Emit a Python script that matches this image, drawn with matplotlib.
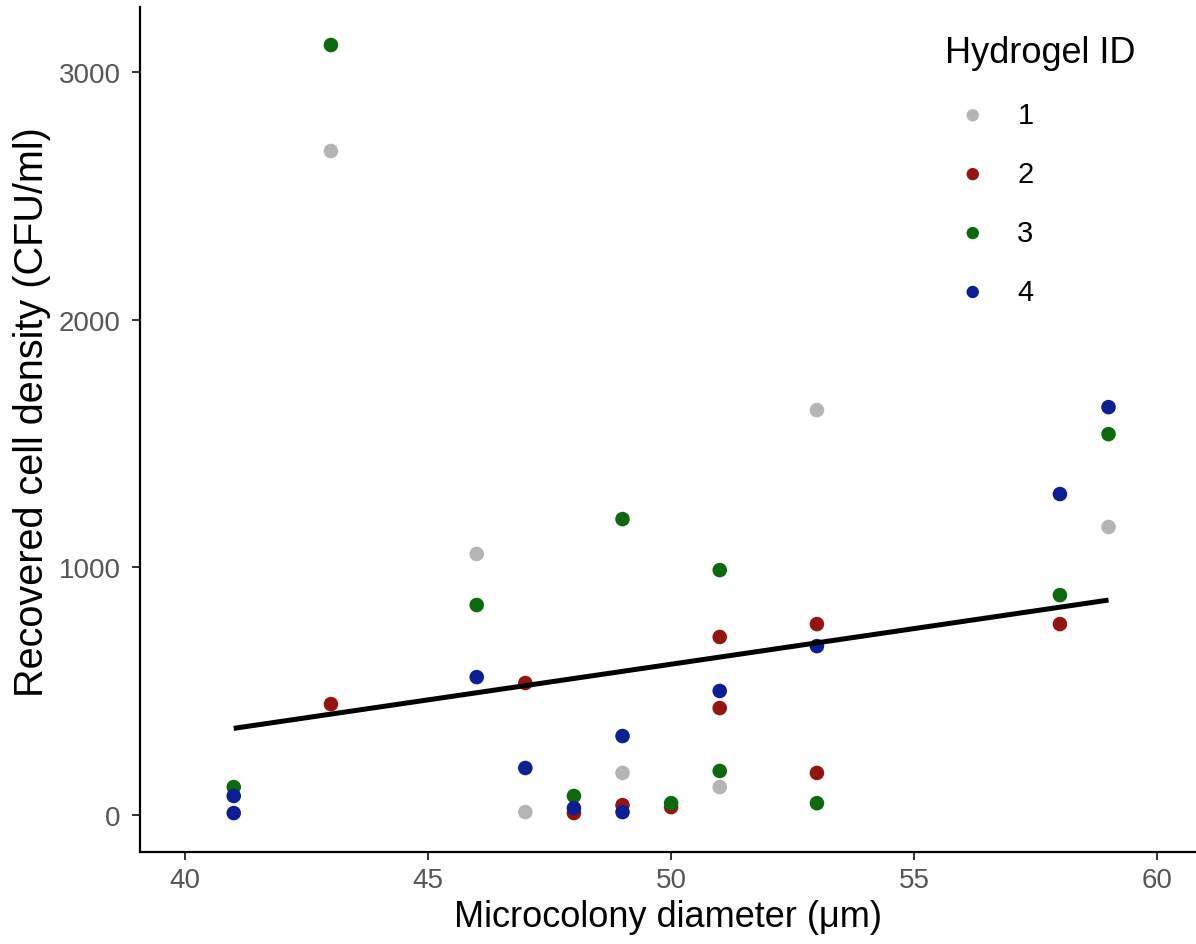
import matplotlib
matplotlib.use("Agg")
import matplotlib.pyplot as plt
import numpy as np

plt.rcParams['font.family'] = ['Liberation Sans', 'DejaVu Sans']

# Data
id1_x = [43, 46, 47, 49, 51, 53, 59]
id1_y = [2681, 1054, 12, 170, 113, 1635, 1163]

id2_x = [43, 47, 48, 49, 50, 51, 51, 53, 53, 58]
id2_y = [448, 533, 8, 40, 32, 719, 432, 771, 170, 771]

id3_x = [41, 43, 46, 48, 49, 50, 51, 51, 53, 58, 59]
id3_y = [113, 3109, 848, 77, 1195, 48, 989, 178, 48, 888, 1538]

id4_x = [41, 41, 46, 47, 48, 49, 49, 51, 53, 58, 59]
id4_y = [77, 8, 557, 190, 28, 319, 12, 501, 682, 1296, 1647]

series_labels = ["1", "2", "3", "4"]
series_colors = ["#B4B4B4", "#951410", "#0B6A0B", "#0C1E94"]

trend_x = [41, 59]
trend_y = [350, 868]

x_ticks = [40, 45, 50, 55, 60]
y_ticks = [0, 1000, 2000, 3000]

fig = plt.figure(figsize=(11.96, 9.45), dpi=100)
ax = fig.add_axes([0.117, 0.0974, 0.883, 0.894])

all_x = [id1_x, id2_x, id3_x, id4_x]
all_y = [id1_y, id2_y, id3_y, id4_y]
for xs, ys, lab, col in zip(all_x, all_y, series_labels, series_colors):
    ax.scatter(xs, ys, s=110, color=col, label=lab, edgecolors='none', zorder=3)

ax.plot(trend_x, trend_y, color='black', lw=3.6, zorder=4, solid_capstyle='butt')

ax.set_xlim(39.07, 60.8)
ax.set_ylim(-149, 3262)
ax.set_xticks(x_ticks)
ax.set_yticks(y_ticks)
ax.tick_params(axis='both', labelsize=20, labelcolor='#555555', color='#333333',
               length=6, width=1.4)
ax.tick_params(axis='x', pad=5)
ax.tick_params(axis='y', pad=8)
for s in ['top', 'right']:
    ax.spines[s].set_visible(False)
for s in ['left', 'bottom']:
    ax.spines[s].set_linewidth(1.6)
    ax.spines[s].set_color('black')

ax.set_xlabel("Microcolony diameter (\u03bcm)", fontsize=26, labelpad=4)
ax.set_ylabel("Recovered cell density (CFU/ml)", fontsize=28.5)
ax.yaxis.set_label_coords(-0.084, 0.522)

leg = ax.legend(title="Hydrogel ID", loc='upper left',
                bbox_to_anchor=(922 / 1196, 1 - 13 / 945), bbox_transform=fig.transFigure,
                frameon=False, fontsize=21, title_fontsize=26, labelspacing=1.06,
                handlelength=1.88, handletextpad=0.59, markerscale=0.85, borderpad=0.3)
leg._legend_box.align = "left"
leg._legend_box.sep = 22

fig.savefig("out.png", dpi=100)
